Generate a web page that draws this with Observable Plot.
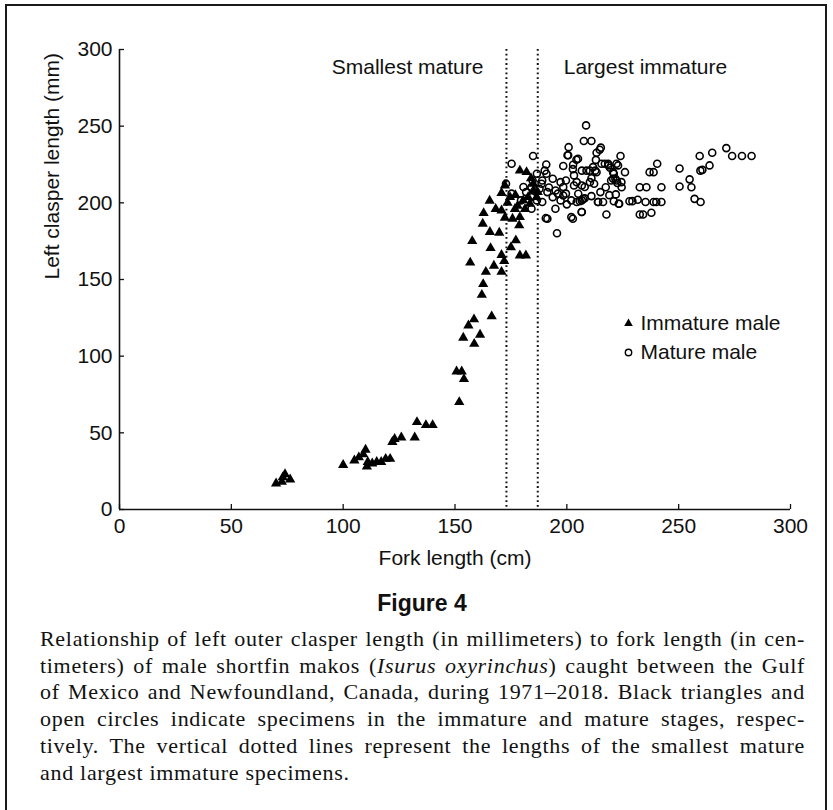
<!DOCTYPE html>
<html>
<head>
<meta charset="utf-8">
<script src="https://cdn.jsdelivr.net/npm/d3@7"></script>
<script src="https://cdn.jsdelivr.net/npm/@observablehq/plot@0.6"></script>
<style>
  html, body { margin: 0; padding: 0; background: #fff; overflow: hidden; }
  body { width: 833px; height: 810px; position: relative; }
  #frame { position: absolute; left: 5px; top: 4px; width: 822px; height: 830px; border: 2px solid #1a1a1a; box-sizing: border-box; }
  #chart { position: absolute; left: 0; top: 0; }
  #figtitle { position: absolute; left: 10px; width: 824px; top: 589px; text-align: center; font: bold 23px "Liberation Sans", Arial, sans-serif; color: #111; line-height: 28px; }
  #caption { position: absolute; left: 40px; width: 765px; top: 626px; font: 22px "Liberation Serif", "DejaVu Serif", serif; color: #111; line-height: 26.7px; letter-spacing: 0.7px; }
  #caption div { text-align: justify; text-align-last: justify; white-space: nowrap; }
  #caption div.last { text-align-last: left; }
</style>
</head>
<body>
<div id="frame"></div>
<div id="chart"></div>
<div id="figtitle">Figure 4</div>
<div id="caption"></div>
<script>
// Immature males: fork length (cm), left clasper length (mm)
const immatureFL = [70, 72.6, 74, 76.3, 73,
  100, 105, 107, 109, 110, 110.6, 111, 113, 115, 117, 119, 121, 122, 123, 126, 132, 133, 137, 140,
  151.9, 150.7, 153, 154, 153.7, 156, 158.5, 161.2, 158.6, 166.4, 162, 162.6, 163.8, 156.8, 157.7,
  167.4, 170.8, 172, 170.8, 165.9, 165.6, 169.8, 162.4, 162.8, 165.5, 168.2, 170.8, 172.3, 175, 177.2,
  179, 181.7, 175.7, 178.7, 179, 170.8, 172.3, 174.6, 176.8, 179, 182, 180.5, 182.7, 185, 181.3, 183.5,
  185, 186.5, 173.5, 177, 178, 184, 187];
const immatureCL = [17, 18, 23, 19.6, 21,
  29, 32, 34, 36, 39, 28, 31, 30, 31, 31, 33, 33, 44, 46, 47, 47, 57, 55, 55,
  70, 90, 90, 85, 112, 120, 124, 114, 108, 126, 140, 147, 155, 161, 175,
  159, 155, 162, 166, 170.5, 181, 180.5, 186.4, 193.3, 201.4, 196, 195, 190.3, 171, 175.5,
  165.7, 165.7, 189.6, 185.3, 190.7, 206.4, 211.3, 203.7, 196, 221, 220, 201.6, 203.7, 208, 196, 199.4,
  212.4, 203.7, 200, 205, 198, 216, 207];

// Mature males
const matureFL = [172.8, 175.3, 175.3, 184.9, 186.6, 189, 184.2, 187.8, 184.2, 186.6, 191.3, 193.7, 189, 181.8,
  180.6, 179.5, 190.9, 188.7, 190.8, 190.1, 190.6, 191.3, 194.9, 195.6, 193.7, 197.2, 198.4, 203.2, 206.7,
  196, 199.6, 202, 204.4, 206.7, 197.2, 198.4, 205.1, 208, 210.3, 212.2, 215, 203.2, 199.6, 204.4, 202,
  202.7, 206.7, 200.3, 200.8, 205, 198.4, 202.7, 206.7, 210.3, 212.7, 208.6, 207.6, 211, 213.3, 214.7,
  215.2, 217, 218.6, 222.2, 224, 219.3, 221, 221.7, 219.8, 222.6, 224.5, 217.4, 213.9, 216.2, 217.7,
  223.4, 229.3, 231.7, 235.2, 238.8, 232.6, 235.6, 242.3, 232.6, 234.1, 237.8, 237, 238.8, 240.4, 250.4,
  250.4, 254.9, 255.7, 257.1, 259.8, 259.4, 259.7, 260.6, 263.8, 265, 271.3, 273.9, 278.3, 282.6,
  200.6, 202.8, 204.3, 206.6, 184.7, 184.2, 192, 195, 200, 208, 211, 213, 226, 228, 221, 219,
  208.8, 211.7, 213.3, 215.5, 218.5, 220.7, 222.9, 220.7, 222.2, 224.4, 221.9, 211, 207.3, 205.8, 214,
  223.2, 240, 242.3];
const matureCL = [212.5, 225.5, 206, 230.5, 219, 214.6, 210.3, 209.2, 203.7, 201.6, 207, 203.7, 200.5, 207,
  210.3, 201.6, 219, 212.4, 225, 221, 190, 189.6, 196.1, 180.2, 215.7, 213.5, 210.3, 211.3, 211.3,
  206, 206, 201.6, 200.5, 201.6, 201.6, 204.8, 205.9, 210.3, 213.5, 212.4, 207, 217.9, 214.6, 213.5, 190.7,
  189.6, 194, 231, 236.3, 228.7, 224, 222, 221, 221, 221, 250.5, 240.3, 240.3, 232.7, 234.6,
  236, 225.5, 224.4, 225.5, 230.5, 222.9, 219, 215.7, 214.6, 212.9, 210.2, 210.2, 200.5, 200.5, 192.4,
  199.4, 201.1, 202, 200.5, 200.5, 210.2, 210.2, 210.2, 192.4, 192.4, 193.5, 220, 220, 225.5, 222.4,
  210.7, 215.3, 210.2, 202.6, 200.5, 230.5, 221, 221.5, 224.4, 232.7, 235.7, 230.5, 230.5, 230.5,
  231, 224.8, 228.1, 194, 214.6, 196.1, 210, 208, 199, 203, 216, 228, 220, 201, 201, 205,
  221, 223.3, 220, 225.5, 225.5, 220, 224.4, 215.7, 214.6, 213.5, 205.5, 204.4, 202.6, 201.1, 200.5,
  199.4, 200.5, 200.5];

// Lengths of the smallest mature and largest immature specimens (cm)
const thresholdFL = [173, 187];
const thresholdLabels = ["Smallest mature", "Largest immature"];

const xTicks = [0, 50, 100, 150, 200, 250, 300];
const yTicks = [0, 50, 100, 150, 200, 250, 300];
const legendLabels = ["Immature male", "Mature male"];
const xLabel = "Fork length (cm)";
const yLabel = "Left clasper length (mm)";

const captionLines = [
  "Relationship of left outer clasper length (in millimeters) to fork length (in cen-",
  "timeters) of male shortfin makos (<i>Isurus oxyrinchus</i>) caught between the Gulf",
  "of Mexico and Newfoundland, Canada, during 1971–2018. Black triangles and",
  "open circles indicate specimens in the immature and mature stages, respec-",
  "tively. The vertical dotted lines represent the lengths of the smallest mature",
  "and largest immature specimens."
];

const immature = immatureFL.map((d, i) => ({fl: d, cl: immatureCL[i]}));
const mature = matureFL.map((d, i) => ({fl: d, cl: matureCL[i]}));
const annots = thresholdFL.map((d, i) => ({fl: d, label: thresholdLabels[i]}));

const W = 833, H = 575;
const mL = 119, mR = 43, mT = 49, mB = 66;
const innerW = W - mL - mR, innerH = H - mT - mB;

const chart = Plot.plot({
  width: W, height: H,
  marginLeft: mL, marginRight: mR, marginTop: mT, marginBottom: mB,
  style: {fontFamily: "'Liberation Sans', Arial, sans-serif", fontSize: "21px", color: "#111", background: "transparent"},
  x: {domain: [0, 300]},
  y: {domain: [0, 300]},
  marks: [
    Plot.axisX({ticks: xTicks, tickSize: 0, tickPadding: 9, label: null, fontSize: 21}),
    Plot.axisY({ticks: yTicks, tickSize: 0, tickPadding: 7, label: null, fontSize: 21}),
    // inward ticks
    Plot.ruleX(xTicks, {x: d => d, insetTop: innerH - 5, stroke: "#111", strokeWidth: 1.3}),
    Plot.ruleY(yTicks, {y: d => d, insetRight: innerW - 5, stroke: "#111", strokeWidth: 1.3}),
    // axis lines
    Plot.ruleX([0], {stroke: "#111", strokeWidth: 1.6}),
    Plot.ruleY([0], {stroke: "#111", strokeWidth: 1.6}),
    // threshold lines
    Plot.ruleX(thresholdFL, {x: d => d, stroke: "#111", strokeWidth: 2, strokeDasharray: "1.8,2.9"}),
    Plot.text(annots.slice(0, 1), {x: "fl", text: "label", frameAnchor: "top", dy: 18, dx: -23, textAnchor: "end", lineAnchor: "middle", fontSize: 21, fill: "#111"}),
    Plot.text(annots.slice(1), {x: "fl", text: "label", frameAnchor: "top", dy: 18, dx: 26, textAnchor: "start", lineAnchor: "middle", fontSize: 21, fill: "#111"}),
    // data
    Plot.dot(mature, {x: "fl", y: "cl", r: 3.5, stroke: "#000", strokeWidth: 1.6, fill: "none"}),
    Plot.dot(immature, {x: "fl", y: "cl", r: 3.8, symbol: "triangle", fill: "#000", stroke: "none"}),
    // axis titles
    Plot.text([xLabel], {text: d => d, frameAnchor: "bottom", dy: 49, lineAnchor: "middle", fontSize: 21, fill: "#111"}),
    Plot.text([yLabel], {text: d => d, frameAnchor: "left", dx: -67, rotate: -90, lineAnchor: "middle", fontSize: 21, fill: "#111"}),
    // legend
    Plot.dot(legendLabels.slice(0, 1), {frameAnchor: "top-left", dx: 628 - mL, dy: 323 - mT, r: 3.2, symbol: "triangle", fill: "#000"}),
    Plot.dot(legendLabels.slice(1), {frameAnchor: "top-left", dx: 628 - mL, dy: 352 - mT, r: 3.2, stroke: "#000", strokeWidth: 1.4, fill: "none"}),
    Plot.text(legendLabels.slice(0, 1), {text: d => d, frameAnchor: "top-left", dx: 640 - mL, dy: 323 - mT, textAnchor: "start", lineAnchor: "middle", fontSize: 21, fill: "#111"}),
    Plot.text(legendLabels.slice(1), {text: d => d, frameAnchor: "top-left", dx: 640 - mL, dy: 352 - mT, textAnchor: "start", lineAnchor: "middle", fontSize: 21, fill: "#111"})
  ]
});
document.getElementById("chart").appendChild(chart);

const cap = document.getElementById("caption");
captionLines.forEach((t, i) => {
  const div = document.createElement("div");
  div.innerHTML = t;
  if (i === captionLines.length - 1) div.className = "last";
  cap.appendChild(div);
});
</script>
</body>
</html>
